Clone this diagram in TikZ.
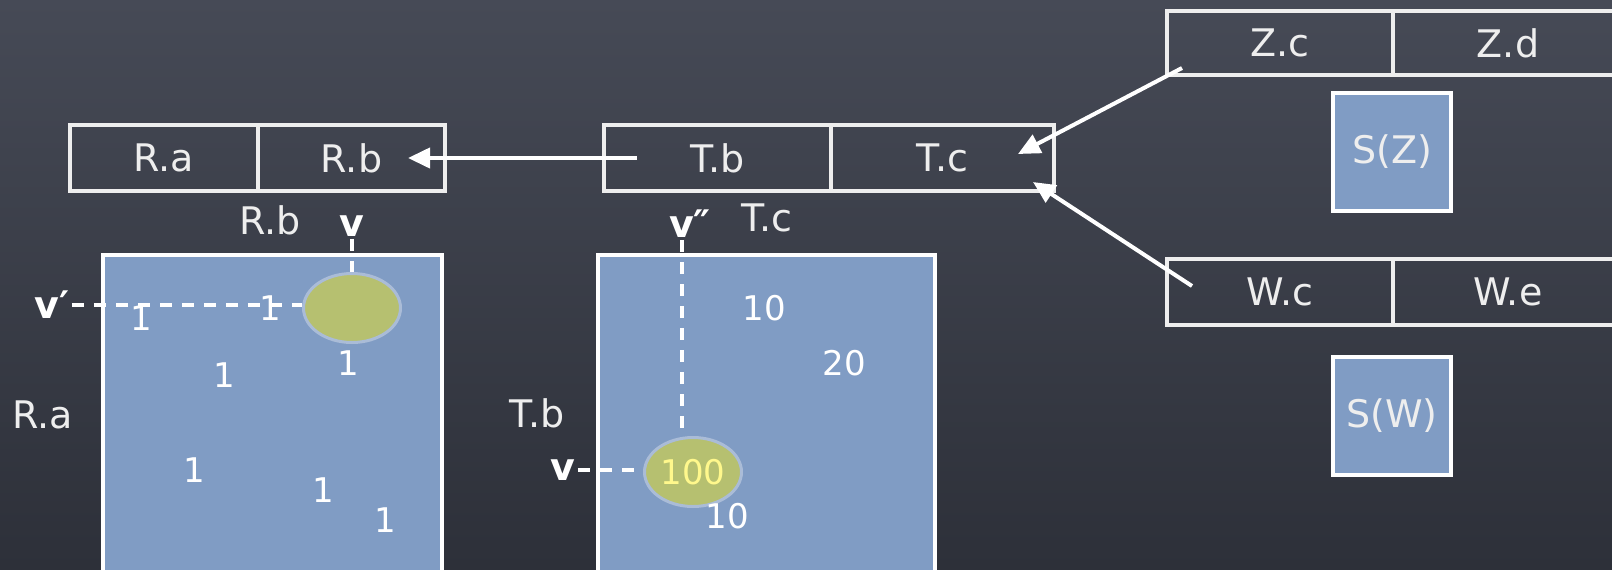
\documentclass[tikz,border=0pt]{standalone}
\usepackage{fontspec}
\setmainfont{DejaVu Sans}
\usetikzlibrary{arrows.meta,positioning,calc,shapes.geometric}

\definecolor{boardtop}{RGB}{70,74,86}
\definecolor{boardlow}{RGB}{45,48,57}
\definecolor{chalk}{RGB}{238,238,238}
\definecolor{relblue}{RGB}{128,156,196}
\definecolor{hitgreen}{RGB}{182,192,112}
\definecolor{hitrim}{RGB}{170,188,215}
\definecolor{hityellow}{RGB}{255,248,140}

\begin{document}
\begin{tikzpicture}[x=0.5pt, y=-0.5pt, >=Stealth,
    cell/.style={draw=chalk, line width=2pt, minimum height=33pt, inner sep=0pt, outer sep=0pt,
      text=chalk, font=\fontsize{19}{22}\selectfont},
    rel/.style={draw=white, line width=2pt, fill=relblue, inner sep=0pt, outer sep=0pt, text=chalk,
      font=\fontsize{19}{22}\selectfont},
    hit/.style={ellipse, draw=hitrim, line width=1.5pt, fill=hitgreen, inner sep=0pt,
      minimum width=48.5pt, minimum height=34.5pt, text=hityellow, font=\fontsize{17}{20}\selectfont},
    lbl/.style={text=chalk, font=\fontsize{19}{22}\selectfont},
    var/.style={text=white, inner sep=1pt, font=\bfseries\fontsize{19}{22}\selectfont},
    num/.style={text=white, font=\fontsize{17}{20}\selectfont},
    dashline/.style={white, line width=2pt, dash pattern=on 6pt off 5pt},
    arr/.style={white, line width=2pt, -{Triangle[length=11pt,width=10pt]}}]
  \clip (0,0) rectangle (1612,569);
  \shade[top color=boardtop, bottom color=boardlow] (0,0) rectangle (1612,569);

  % relations as tables
  \node[cell, minimum width=94pt, anchor=north west] (Ra) at (70,125) {R.a};
  \node[cell, minimum width=93.5pt, anchor=west] (Rb) at (Ra.east) {R.b};
  \node[cell, minimum width=113.5pt, anchor=north west] (Tb) at (604,125) {T.b};
  \node[cell, minimum width=111.5pt, anchor=west] (Tc) at (Tb.east) {T.c};
  \node[cell, minimum width=113pt, minimum height=32pt, anchor=north west] (Zc) at (1167,11) {Z.c};
  \node[cell, minimum width=115pt, minimum height=32pt, anchor=west] (Zd) at (Zc.east) {Z.d};
  \node[cell, minimum width=113pt, anchor=north west] (Wc) at (1167,259) {W.c};
  \node[cell, minimum width=115pt, anchor=west] (We) at (Wc.east) {W.e};

  % joins
  \draw[arr] ($(Tb.west)+(33,0)$) -- ($(Rb.east)+(-37,0)$);
  \draw[arr] ($(Zc.south west)+(15,-7)$) -- ($(Tc.east)+(-36,-4)$);
  \draw[arr] ($(Wc.west)+(25,-6)$) -- ($(Tc.south east)+(-21,-9)$);

  % statistics
  \node[rel, minimum width=169.5pt, minimum height=170pt, anchor=north west] (Rgrid) at (103,255) {};
  \node[rel, minimum width=168.5pt, minimum height=170pt, anchor=north west] (Tgrid) at (598,255) {};
  \node[rel, minimum size=59pt, anchor=north west] (SZ) at (1333,93) {S(Z)};
  \node[rel, minimum size=59pt, anchor=north west] (SW) at (1333,357) {S(W)};

  \node[hit] (Rhit) at (352,308) {};
  \node[hit] (Thit) at (693,472) {100};

  \foreach \p [count=\i] in {(141,318),(270,308),(348,363),(224,375),(194,470),(323,490),(385,520)}
    \node[num] (r\i) at \p {1};
  \node[num] (t1) at (764,308) {10};
  \node[num] (t2) at (844,363) {20};
  \node[num] (t3) at (727,516) {10};

  % axis labels
  \node[lbl] (RbAx) at (270,220) {R.b};
  \node[lbl] (RaAx) at (43,415) {R.a};
  \node[lbl] (TcAx) at (767,218) {T.c};
  \node[lbl] (TbAx) at (537,413) {T.b};
  \node[var] (vR) at (352,226) {v};
  \node[var] (vpR) at (52,305) {v′};
  \node[var] (vppT) at (690,224) {v″};
  \node[var] (vT) at (563,470) {v};

  \draw[dashline] (vR) -- (Rhit);
  \draw[dashline] (vpR.east) -- (vpR.east -| Rhit.west);
  \draw[dashline] ([xshift=-4pt]vppT.south) -- ([xshift=-4pt]vppT.south |- Thit.north);
  \draw[dashline] (vT.east) -- (vT.east -| Thit.west);
\end{tikzpicture}
\end{document}
